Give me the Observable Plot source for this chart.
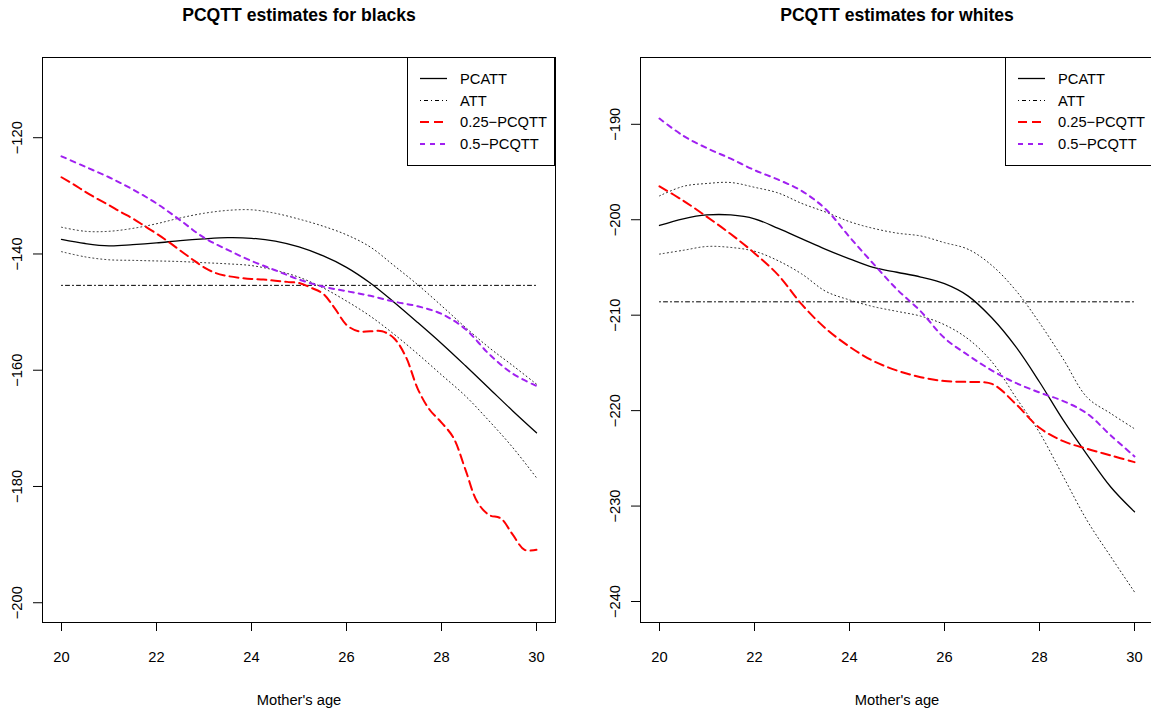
<!DOCTYPE html>
<html><head><meta charset="utf-8">
<script src="https://cdn.jsdelivr.net/npm/d3@7"></script>
<script src="https://cdn.jsdelivr.net/npm/@observablehq/plot@0.6"></script>
<style>
body{margin:0;background:#fff;overflow:hidden}
#wrap{position:relative;width:1151px;height:715px;overflow:hidden;font-family:"Liberation Sans",Arial,Helvetica,sans-serif}
.panel{position:absolute;top:0}
.legend{position:absolute;border:1px solid #000;background:#fff;box-sizing:border-box}
</style></head><body><div id="wrap"></div>
<script>
// ---- data ----
const ages = [20,20.5,21,21.5,22,22.5,23,23.5,24,24.5,25,25.5,26,26.5,27,27.5,28,28.5,29,29.5,30];
const agesFine = [20,20.25,20.5,20.75,21,21.25,21.5,21.75,22,22.25,22.5,22.75,23,23.25,23.5,23.75,24,24.25,24.5,24.75,25,25.25,25.5,25.75,26,26.25,26.5,26.75,27,27.25,27.5,27.75,28,28.25,28.5,28.75,29,29.25,29.5,29.75,30];
const xTicks = [20,22,24,26,28,30];
const attAges = [20,30];

// blacks
const blackPCATT = [-137.5,-138.2,-138.6,-138.4,-138.1,-137.7,-137.4,-137.2,-137.3,-137.8,-138.8,-140.3,-142.3,-145.0,-148.3,-151.8,-155.4,-159.2,-163.1,-167.0,-170.75];
const blackUpper = [-135.4,-136.1,-136.1,-135.6,-134.8,-133.8,-133.0,-132.5,-132.4,-133.0,-134.0,-135.2,-136.7,-138.8,-142.0,-145.3,-148.9,-152.6,-156.1,-159.2,-162.4];
const blackLower = [-139.6,-140.5,-141.0,-141.1,-141.2,-141.3,-141.5,-141.7,-142.0,-142.8,-144.0,-145.8,-148.1,-150.7,-153.8,-157.2,-160.8,-164.4,-168.7,-173.3,-178.5];
const blackQ25 = [-126.8,-128.0,-129.3,-130.5,-131.6,-132.8,-133.9,-135.2,-136.5,-137.9,-139.4,-140.9,-142.3,-143.3,-143.8,-144.1,-144.3,-144.4,-144.6,-144.8,-145.0,-145.8,-146.8,-149.3,-152.2,-153.3,-153.3,-153.3,-154.5,-157.7,-163.2,-166.8,-169.0,-171.6,-177.0,-182.6,-184.9,-185.5,-188.3,-190.9,-190.9];
const blackQ50 = [-123.2,-125.0,-126.8,-128.9,-131.3,-134.2,-137.2,-139.3,-141.2,-142.8,-144.4,-145.6,-146.4,-147.2,-148.2,-149.0,-150.3,-152.9,-157.2,-160.6,-162.7];
const blackATT = -145.4;
const yTicksBlack = [-200,-180,-160,-140,-120];

// whites
const whitePCATT = [-200.6,-199.9,-199.5,-199.5,-199.9,-200.9,-202.0,-203.1,-204.1,-205.0,-205.5,-206.0,-206.7,-208.0,-210.3,-213.3,-217.0,-221.0,-224.6,-228.0,-230.6];
const whiteUpper = [-197.5,-196.5,-196.2,-196.1,-196.6,-197.2,-198.3,-199.2,-200.2,-200.9,-201.4,-201.7,-202.4,-203.1,-204.8,-207.4,-210.8,-214.6,-218.6,-220.3,-221.9];
const whiteLower = [-203.6,-203.2,-202.8,-202.9,-203.3,-204.3,-205.7,-207.5,-208.4,-209.1,-209.6,-210.1,-211.0,-212.5,-214.9,-218.6,-222.3,-226.9,-231.5,-235.3,-239.0];
const whiteQ25 = [-196.5,-198.0,-199.7,-201.5,-203.5,-205.8,-208.9,-211.4,-213.3,-214.8,-215.8,-216.5,-216.9,-217.0,-217.2,-219.3,-221.8,-223.2,-224.0,-224.7,-225.4];
const whiteQ50 = [-189.4,-191.2,-192.5,-193.6,-194.8,-195.8,-197.0,-198.9,-201.8,-204.6,-207.3,-209.6,-212.4,-214.2,-215.8,-217.1,-218.1,-219.0,-220.3,-222.6,-224.8];
const whiteATT = -208.6;
const yTicksWhite = [-240,-230,-220,-210,-200,-190];

const legendLabels = ["PCATT","ATT","0.25\u2212PCQTT","0.5\u2212PCQTT"];
const titles = ["PCQTT estimates for blacks","PCQTT estimates for whites"];
const xLabel = "Mother's age";

// ---- styles ----
const FONT = '"Liberation Sans", Arial, Helvetica, sans-serif';
const styles = {
  pcatt: {stroke:"#000", strokeWidth:1.3},
  ci: {stroke:"#222", strokeWidth:1, strokeDasharray:"1,3"},
  att: {stroke:"#000", strokeWidth:1, strokeDasharray:"1,3,4,3"},
  q25: {stroke:"#FF0000", strokeWidth:2, strokeDasharray:"9,5"},
  q50: {stroke:"#A020F0", strokeWidth:2, strokeDasharray:"5,5"}
};
const legendStyles = [styles.pcatt, styles.att, styles.q25, styles.q50];
const fmt = d => String(d).replace("-", "\u2212");
const toRows = (xs, ys) => xs.map((x, i) => ({age: x, value: ys[i]}));

function makePanel(o) {
  const W = o.width, H = 715;
  const mt = 57, mb = 93;
  const line = (rows, st) => Plot.line(rows, {x:"age", y:"value", curve:"catmull-rom", ...st});
  const svg = Plot.plot({
    width: W, height: H,
    marginTop: mt, marginBottom: mb, marginLeft: o.ml, marginRight: o.mr,
    x: {domain: [19.6, 30.4]},
    y: {domain: o.yDomain},
    style: {fontFamily: FONT, fontSize: "14.7px", color: "#000", background: "#fff", overflow: "visible"},
    marks: [
      Plot.frame({stroke:"#000", strokeWidth:1}),
      Plot.axisX(xTicks, {tickSize: 9, fill: "none", label: null, stroke: "#000"}),
      Plot.axisY(o.yTicks, {tickSize: 9, fill: "none", label: null, stroke: "#000"}),
      Plot.text(xTicks, {x: d => d, frameAnchor: "bottom", dy: 35, text: fmt, fontSize: 14.7, lineAnchor: "middle", fill: "#000"}),
      Plot.text(o.yTicks, {y: d => d, frameAnchor: "left", dx: -25, rotate: -90, text: fmt, fontSize: 14.7, lineAnchor: "middle", textAnchor: "middle", fill: "#000"}),
      line(toRows(ages, o.upper), styles.ci),
      line(toRows(ages, o.lower), styles.ci),
      Plot.line(toRows(attAges, [o.att, o.att]), {x:"age", y:"value", ...styles.att}),
      line(toRows(ages, o.pcatt), styles.pcatt),
      line(toRows(o.q25Ages, o.q25), styles.q25),
      line(toRows(ages, o.q50), styles.q50),
      Plot.text([o.title], {frameAnchor: "top", dy: -42, fontWeight: "bold", fontSize: 17.6, lineAnchor: "middle", fill: "#000"}),
      Plot.text([xLabel], {frameAnchor: "bottom", dy: 78, fontSize: 14.7, lineAnchor: "middle", fill: "#000"})
    ]
  });
  const div = document.createElement("div");
  div.className = "panel";
  div.style.left = o.left + "px";
  div.style.width = W + "px";
  div.style.height = H + "px";
  div.appendChild(svg);
  // legend box, anchored to the top-right corner of the plot frame
  const lw = 148, lh = 109;
  const lg = document.createElement("div");
  lg.className = "legend";
  lg.style.left = (W - o.mr - lw) + "px";
  lg.style.top = mt + "px";
  lg.style.width = lw + "px";
  lg.style.height = lh + "px";
  const rowsY = [21.5, 43.5, 65, 87];
  let s = `<svg width="${lw}" height="${lh}" style="position:absolute;left:-1px;top:-1px;overflow:visible">`;
  legendLabels.forEach((lab, i) => {
    const st = legendStyles[i];
    s += `<line x1="13" x2="40" y1="${rowsY[i]}" y2="${rowsY[i]}" stroke="${st.stroke}" stroke-width="${st.strokeWidth}" ${st.strokeDasharray ? `stroke-dasharray="${st.strokeDasharray}"` : ""}/>`;
    s += `<text x="53" y="${rowsY[i]}" dy="0.35em" font-family='${FONT}' font-size="14.7" fill="#000">${lab}</text>`;
  });
  s += "</svg>";
  lg.innerHTML = s;
  div.appendChild(lg);
  return div;
}

const wrap = document.getElementById("wrap");
wrap.appendChild(makePanel({
  title: titles[0], left: 0, width: 575, ml: 42, mr: 20,
  yDomain: [-203.4, -106.2], yTicks: yTicksBlack,
  pcatt: blackPCATT, upper: blackUpper, lower: blackLower,
  q25: blackQ25, q25Ages: agesFine, q50: blackQ50, att: blackATT
}));
wrap.appendChild(makePanel({
  title: titles[1], left: 575, width: 578, ml: 65, mr: 0,
  yDomain: [-242.2, -183.0], yTicks: yTicksWhite,
  pcatt: whitePCATT, upper: whiteUpper, lower: whiteLower,
  q25: whiteQ25, q25Ages: ages, q50: whiteQ50, att: whiteATT
}));
</script></body></html>
